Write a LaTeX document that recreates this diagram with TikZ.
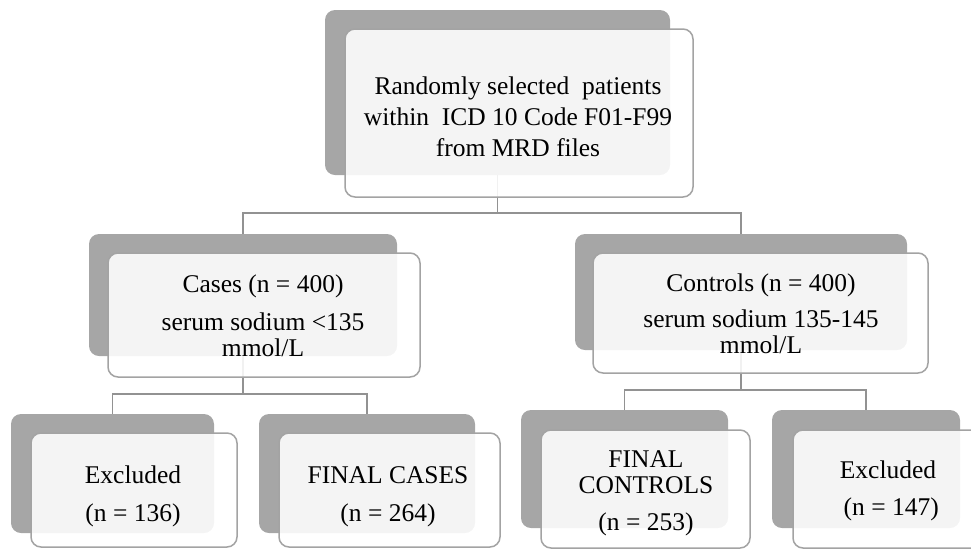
\documentclass[tikz,border=0pt]{standalone}
\usepackage{fontspec}
\setmainfont{Liberation Serif}
\definecolor{backfill}{HTML}{A6A6A6}
\definecolor{frontline}{HTML}{A3A3A3}
\definecolor{linkgray}{HTML}{929292}
\begin{document}
\begin{tikzpicture}[x=1pt,y=-1pt,
  backbox/.style={draw=none,fill=backfill,rounded corners=10pt,inner sep=0pt,outer sep=0pt},
  frontbox/.style={draw=frontline,line width=1.5pt,fill=white,fill opacity=0.88,rounded corners=10pt,inner sep=0pt,outer sep=0pt},
  label/.style={font=\fontsize{25.5}{26}\selectfont,align=center,anchor=base,inner sep=0pt,text=black},
  link/.style={draw=linkgray,line width=1.5pt}]
\useasboundingbox (0,0) rectangle (971,550);
\clip (0,0) rectangle (971,550);

% back panels
\node[backbox,minimum width=345pt,minimum height=165pt] (topB) at (497.5,92.5) {};
\node[backbox,minimum width=308pt,minimum height=122pt] (casB) at (243,295) {};
\node[backbox,minimum width=332pt,minimum height=116pt] (conB) at (741,292) {};
\node[backbox,minimum width=203pt,minimum height=119pt] (exAB) at (112.5,473.5) {};
\node[backbox,minimum width=216pt,minimum height=119pt] (fcaB) at (367,473.5) {};
\node[backbox,minimum width=207pt,minimum height=118pt] (fcoB) at (624.5,469) {};
\node[backbox,minimum width=188pt,minimum height=118pt] (exBB) at (866,469) {};

% connectors
\coordinate (bus1) at (497.5,213);
\coordinate (bus2) at (243,394);
\coordinate (bus3) at (741,390);
\draw[link] (topB.south) -- (bus1);
\draw[link] (casB.north) |- (bus1) -| (conB.north);
\draw[link] (casB.south) -- (bus2);
\draw[link] (exAB.north) |- (bus2) -| (fcaB.north);
\draw[link] (conB.south) -- (bus3);
\draw[link] (fcoB.north) |- (bus3) -| (exBB.north);

% front panels
\node[frontbox,minimum width=348pt,minimum height=168pt] (topF) at (519,113) {};
\node[frontbox,minimum width=312pt,minimum height=124pt] (casF) at (264,315) {};
\node[frontbox,minimum width=335pt,minimum height=120pt] (conF) at (760.5,313) {};
\node[frontbox,minimum width=206pt,minimum height=114pt] (exAF) at (134,490) {};
\node[frontbox,minimum width=221pt,minimum height=114pt] (fcaF) at (389.5,490) {};
\node[frontbox,minimum width=209pt,minimum height=118pt] (fcoF) at (645.5,489) {};
\node[frontbox,minimum width=188pt,minimum height=118pt] (exBF) at (887,489) {};

% labels (anchored at the baseline of their last line)
\node[label,font=\fontsize{25.5}{31}\selectfont] (topT) at (518,156)
  {Randomly selected\ \ patients\\within\ \ ICD 10 Code F01-F99\\from MRD files};
\node[label] (casT) at (263,356) {Cases (n = 400)\\[12pt]serum sodium <135\\mmol/L};
\node[label] (conT) at (761,353) {Controls (n = 400)\\[10pt]serum sodium 135-145\\mmol/L};
\node[label] (exAT) at (133,521) {Excluded\\[12pt](n = 136)};
\node[label] (fcaT) at (388,521) {FINAL CASES\\[12pt](n = 264)};
\node[label] (fcoT) at (646,530) {FINAL\\CONTROLS\\[11pt](n = 253)};
\node[label] (exBT) at (888,515) {Excluded\\[11pt]\ (n = 147)};
\end{tikzpicture}
\end{document}
